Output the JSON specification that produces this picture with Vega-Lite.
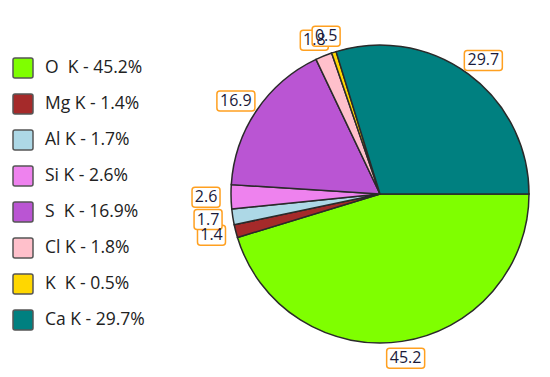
{
  "$schema": "https://vega.github.io/schema/vega-lite/v6.json",
  "width": 300,
  "height": 300,
  "autosize": "none",
  "padding": {"left": 230, "top": 44, "right": 20, "bottom": 33},
  "background": "white",
  "config": {"view": {"stroke": null}, "font": "Open Sans"},
  "data": {"values": [
    {"idx": 1, "legend": "O\u00a0 K - 45.2%", "value": 45.2, "lab": "45.2"},
    {"idx": 2, "legend": "Mg K - 1.4%", "value": 1.4, "lab": "1.4"},
    {"idx": 3, "legend": "Al K - 1.7%", "value": 1.7, "lab": "1.7"},
    {"idx": 4, "legend": "Si K - 2.6%", "value": 2.6, "lab": "2.6"},
    {"idx": 5, "legend": "S\u00a0 K - 16.9%", "value": 16.9, "lab": "16.9"},
    {"idx": 6, "legend": "Cl K - 1.8%", "value": 1.8, "lab": "1.8"},
    {"idx": 7, "legend": "K\u00a0 K - 0.5%", "value": 0.5, "lab": "0.5"},
    {"idx": 8, "legend": "Ca K - 29.7%", "value": 29.7, "lab": "29.7"}
  ]},
  "layer": [
    {
      "mark": {"type": "arc", "outerRadius": 149, "stroke": "#2a2a2a", "strokeWidth": 1.5},
      "encoding": {
        "theta": {"field": "value", "type": "quantitative", "stack": true, "scale": {"range": [1.5708, 7.8540]}},
        "order": {"field": "idx", "type": "quantitative"},
        "color": {
          "field": "legend", "type": "nominal", "sort": null,
          "scale": {
            "domain": ["O\u00a0 K - 45.2%", "Mg K - 1.4%", "Al K - 1.7%", "Si K - 2.6%", "S\u00a0 K - 16.9%", "Cl K - 1.8%", "K\u00a0 K - 0.5%", "Ca K - 29.7%"],
            "range": ["#7FFF00", "#A52A2A", "#ADD8E6", "#EE82EE", "#BA55D3", "#FFC0CB", "#FFD700", "#008080"]
          },
          "legend": {
            "title": null, "orient": "none", "legendX": -218, "legendY": 13, "padding": 0,
            "symbolType": "M-0.8,-1H0.8Q1,-1 1,-0.8V0.8Q1,1 0.8,1H-0.8Q-1,1 -1,0.8V-0.8Q-1,-1 -0.8,-1Z",
            "symbolSize": 400, "symbolStrokeColor": "#555", "symbolStrokeWidth": 1.5, "symbolOpacity": 1,
            "labelFontSize": 17.5, "labelFont": "Open Sans", "labelColor": "#222", "labelOffset": 11,
            "rowPadding": 10, "labelLimit": 300
          }
        }
      }
    },
    {
      "transform": [
        {"joinaggregate": [{"op": "sum", "field": "value", "as": "total"}]},
        {"stack": "value", "sort": [{"field": "idx"}], "as": ["v0", "v1"]},
        {"calculate": "PI/2 + PI*(datum.v0+datum.v1)/datum.total", "as": "ang"},
        {"calculate": "174*sin(datum.ang)", "as": "lx"},
        {"calculate": "166*cos(datum.ang)", "as": "ly"}
      ],
      "layer": [
        {
          "transform": [{"filter": "datum.value >= 10"}],
          "mark": {"type": "point", "shape": "M-1.6,-1H1.6Q1.9,-1 1.9,-0.7V0.7Q1.9,1 1.6,1H-1.6Q-1.9,1 -1.9,0.7V-0.7Q-1.9,-1 -1.6,-1Z", "size": 400, "filled": true, "fill": "white", "stroke": "#FFA020", "strokeWidth": 1.5, "opacity": 1},
          "encoding": {
            "x": {"field": "lx", "type": "quantitative", "scale": {"domain": [-150, 150], "nice": false, "zero": false}, "axis": null},
            "y": {"field": "ly", "type": "quantitative", "scale": {"domain": [-150, 150], "nice": false, "zero": false}, "axis": null}
          }
        },
        {
          "transform": [{"filter": "datum.value < 10"}],
          "mark": {"type": "point", "shape": "M-1.1,-1H1.1Q1.4,-1 1.4,-0.7V0.7Q1.4,1 1.1,1H-1.1Q-1.4,1 -1.4,0.7V-0.7Q-1.4,-1 -1.1,-1Z", "size": 400, "filled": true, "fill": "white", "stroke": "#FFA020", "strokeWidth": 1.5, "opacity": 1},
          "encoding": {
            "x": {"field": "lx", "type": "quantitative", "axis": null},
            "y": {"field": "ly", "type": "quantitative", "axis": null}
          }
        },
        {
          "mark": {"type": "text", "fontSize": 16, "font": "Open Sans", "color": "#1a1a3a", "align": "center", "baseline": "middle"},
          "encoding": {
            "x": {"field": "lx", "type": "quantitative", "axis": null},
            "y": {"field": "ly", "type": "quantitative", "axis": null},
            "text": {"field": "lab", "type": "nominal"}
          }
        }
      ]
    }
  ]
}
